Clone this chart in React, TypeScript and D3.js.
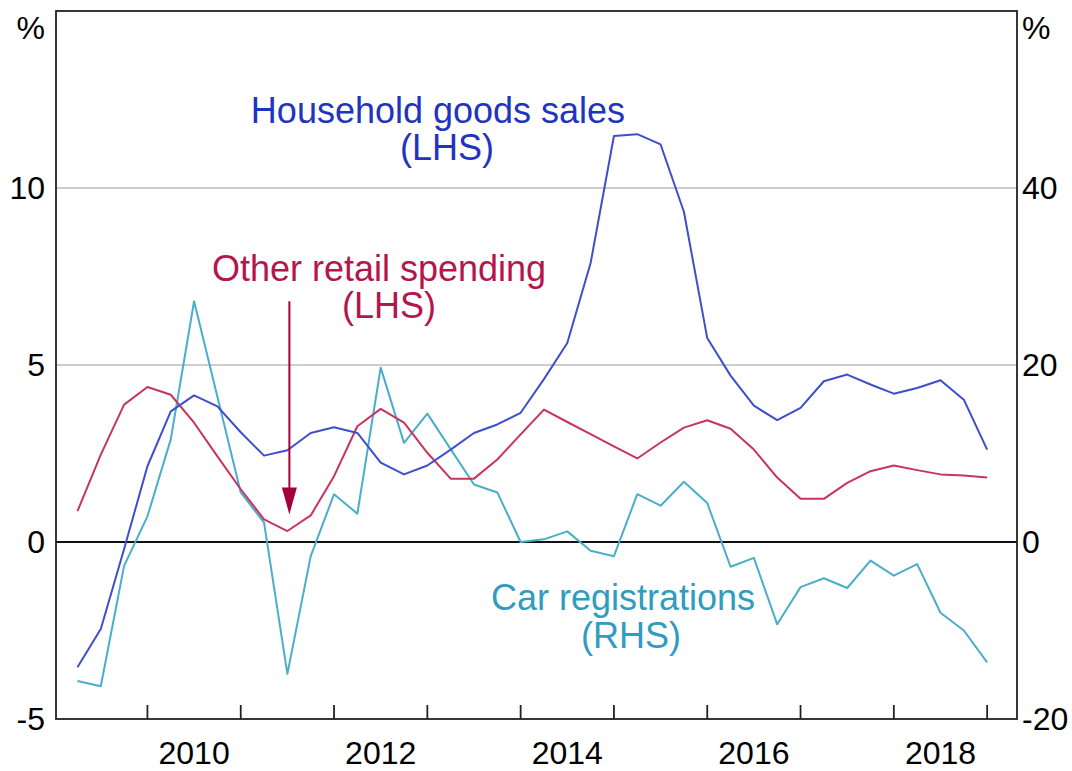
import React from "react";
import * as d3 from "d3";

// quarter-end observations, Mar 2009 .. Dec 2018
const quarters = [
  "2009Q1", "2009Q2", "2009Q3", "2009Q4",
  "2010Q1", "2010Q2", "2010Q3", "2010Q4",
  "2011Q1", "2011Q2", "2011Q3", "2011Q4",
  "2012Q1", "2012Q2", "2012Q3", "2012Q4",
  "2013Q1", "2013Q2", "2013Q3", "2013Q4",
  "2014Q1", "2014Q2", "2014Q3", "2014Q4",
  "2015Q1", "2015Q2", "2015Q3", "2015Q4",
  "2016Q1", "2016Q2", "2016Q3", "2016Q4",
  "2017Q1", "2017Q2", "2017Q3", "2017Q4",
  "2018Q1", "2018Q2", "2018Q3", "2018Q4",
];

// LHS, %
const householdGoods = [
  -3.54, -2.46, -0.2, 2.14, 3.69, 4.14, 3.83, 3.1, 2.44, 2.59,
  3.08, 3.24, 3.08, 2.24, 1.91, 2.16, 2.61, 3.08, 3.32, 3.65,
  4.6, 5.62, 7.88, 11.47, 11.52, 11.23, 9.33, 5.76, 4.7, 3.85,
  3.44, 3.79, 4.54, 4.73, 4.45, 4.19, 4.35, 4.57, 4.02, 2.61,
];

// LHS, %
const otherRetail = [
  0.87, 2.47, 3.88, 4.38, 4.16, 3.37, 2.42, 1.49, 0.64, 0.31,
  0.75, 1.86, 3.27, 3.76, 3.37, 2.52, 1.79, 1.79, 2.33, 3.04,
  3.74, 3.39, 3.05, 2.7, 2.36, 2.81, 3.23, 3.44, 3.2, 2.61,
  1.82, 1.22, 1.22, 1.67, 2.0, 2.16, 2.03, 1.91, 1.88, 1.82,
];

// RHS, %
const carRegistrations = [
  -15.7, -16.3, -2.7, 2.9, 11.6, 27.2, 16.4, 5.6, 2.2, -14.9,
  -1.6, 5.4, 3.2, 19.7, 11.2, 14.5, 10.5, 6.5, 5.6, 0.0,
  0.3, 1.2, -1.0, -1.6, 5.4, 4.1, 6.8, 4.4, -2.8, -1.8,
  -9.3, -5.1, -4.1, -5.2, -2.1, -3.8, -2.5, -8.0, -10.0, -13.6,
];

const leftTicks = [-5, 0, 5, 10];
const rightTicks = [-20, 0, 20, 40];
const gridValues = [5, 10];
const yearTicks = [2010, 2011, 2012, 2013, 2014, 2015, 2016, 2017, 2018, 2019];
const yearLabels = [2010, 2012, 2014, 2016, 2018];

const FONT = "'Liberation Sans', Arial, Helvetica, sans-serif";
const BLUE = "#3d4fcc";
const BLUE_TEXT = "#2233c0";
const PINK = "#c9335f";
const PINK_TEXT = "#b5154c";
const TEAL = "#4aaecb";
const TEAL_TEXT = "#2f9cc0";
const ARROW = "#a3003c";

const qTime = (q: string) => +q.slice(0, 4) + +q.slice(5) / 4;

export default function App() {
  const width = 1072;
  const height = 771;
  const plot = { left: 56, right: 1017, top: 11, bottom: 719 };

  const x = d3.scaleLinear().domain([2009.02, 2019.32]).range([plot.left, plot.right]);
  const yL = d3.scaleLinear().domain([-5, 15]).range([plot.bottom, plot.top]);
  const yR = d3.scaleLinear().domain([-20, 60]).range([plot.bottom, plot.top]);

  const lineL = d3
    .line<number>()
    .x((_, i) => x(qTime(quarters[i])))
    .y((d) => yL(d));
  const lineR = d3
    .line<number>()
    .x((_, i) => x(qTime(quarters[i])))
    .y((d) => yR(d));

  // arrow pointing at the 2011 trough in other retail spending
  const arrowX = x(qTime("2011Q2")) + 2;
  const arrowTop = yL(6.8);
  const arrowTip = yL(0.78);

  return (
    <svg
      width={width}
      height={height}
      style={{ position: "absolute", left: 0, top: 0, background: "#fff" }}
      fontFamily={FONT}
    >
      {/* grid */}
      {gridValues.map((v) => (
        <line
          key={v}
          x1={plot.left}
          x2={plot.right}
          y1={yL(v)}
          y2={yL(v)}
          stroke="#bdbdbd"
          strokeWidth={1.5}
        />
      ))}

      {/* zero line */}
      <line x1={plot.left} x2={plot.right} y1={yL(0)} y2={yL(0)} stroke="#111" strokeWidth={1.8} />

      {/* series */}
      <path d={lineR(carRegistrations) || ""} fill="none" stroke={TEAL} strokeWidth={2} strokeLinejoin="round" />
      <path d={lineL(otherRetail) || ""} fill="none" stroke={PINK} strokeWidth={2} strokeLinejoin="round" />
      <path d={lineL(householdGoods) || ""} fill="none" stroke={BLUE} strokeWidth={2} strokeLinejoin="round" />

      {/* frame */}
      <rect
        x={plot.left}
        y={plot.top}
        width={plot.right - plot.left}
        height={plot.bottom - plot.top}
        fill="none"
        stroke="#222"
        strokeWidth={1.8}
      />

      {/* x ticks */}
      {yearTicks.map((t) => (
        <line key={t} x1={x(t)} x2={x(t)} y1={plot.bottom} y2={plot.bottom - 14} stroke="#222" strokeWidth={1.8} />
      ))}
      {yearLabels.map((t) => (
        <text key={t} x={x(t + 0.5)} y={764} fontSize={32} textAnchor="middle" fill="#000">
          {t}
        </text>
      ))}

      {/* y labels */}
      {leftTicks.map((v) => (
        <text key={v} x={45} y={yL(v) + 11} fontSize={32} textAnchor="end" fill="#000">
          {v}
        </text>
      ))}
      {rightTicks.map((v) => (
        <text key={v} x={1022} y={yR(v) + 11} fontSize={32} textAnchor="start" fill="#000">
          {v}
        </text>
      ))}
      <text x={45} y={39} fontSize={32} textAnchor="end" fill="#000">%</text>
      <text x={1022} y={39} fontSize={32} textAnchor="start" fill="#000">%</text>

      {/* annotations */}
      <text x={438} y={123} fontSize={36} textAnchor="middle" fill={BLUE_TEXT}>Household goods sales</text>
      <text x={447} y={160} fontSize={36} textAnchor="middle" fill={BLUE_TEXT}>(LHS)</text>

      <text x={379} y={281} fontSize={36} textAnchor="middle" fill={PINK_TEXT}>Other retail spending</text>
      <text x={389} y={318} fontSize={36} textAnchor="middle" fill={PINK_TEXT}>(LHS)</text>

      <text x={623} y={610} fontSize={36} textAnchor="middle" fill={TEAL_TEXT}>Car registrations</text>
      <text x={631} y={648} fontSize={36} textAnchor="middle" fill={TEAL_TEXT}>(RHS)</text>

      <line x1={arrowX} x2={arrowX} y1={arrowTop} y2={arrowTip - 20} stroke={ARROW} strokeWidth={2} />
      <path
        d={`M${arrowX - 7.5},${arrowTip - 27} L${arrowX + 7.5},${arrowTip - 27} L${arrowX},${arrowTip} Z`}
        fill={ARROW}
      />
    </svg>
  );
}
